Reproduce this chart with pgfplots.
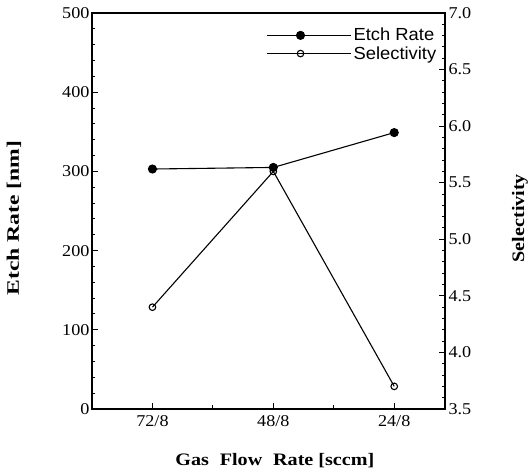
\documentclass[border=0pt]{standalone}
\usepackage{fontspec}
\setmainfont{Liberation Serif}
\newfontfamily\sansf[FakeStretch=1.05]{Liberation Sans}
\newfontfamily\tickf[FakeStretch=1.1]{Liberation Serif}
\newfontfamily\labf[FakeStretch=1.15]{Liberation Serif}
\newfontfamily\labwide[FakeStretch=1.35]{Liberation Serif}
\usepackage{pgfplots}
\pgfplotsset{compat=1.18}
\begin{document}
\begin{tikzpicture}
\pgfplotsset{
  common/.style={
    scale only axis, width=353pt, height=396pt,
    xmin=-0.5, xmax=2.42,
    xtick={0,1,2}, xticklabels={72/8,48/8,24/8},
    minor xtick={0.5,1.5},
    tick align=inside,
    major tick length=6pt, minor tick length=3.5pt,
    every tick/.style={black, line width=1pt},
    axis line style={line width=1.6pt},
    tick label style={font=\tickf\fontsize{16.5}{18}\selectfont},
    /pgf/number format/assume math mode=true,
    label style={font=\labf\fontsize{17.5}{19}\selectfont\bfseries},
  }
}
\begin{axis}[common, at={(0,0)}, anchor=south west,
  xtick pos=bottom, ytick pos=left,
  ymin=0, ymax=500, ytick={0,100,...,500}, minor y tick num=4,
  xlabel={Gas\,\, Flow\,\, Rate [sccm]},
  ylabel={Etch Rate [nm]},
  ylabel style={at={(axis description cs:-0.221,0.482)}, anchor=center, font=\labwide\fontsize{17.5}{19}\selectfont\bfseries},
  xlabel style={at={(axis description cs:0.518,-0.131)}, anchor=center},
  xticklabel style={yshift=-3pt},
  yticklabel style={xshift=1pt},
]
\addplot[black, line width=1.1pt, mark=*, mark size=4pt] coordinates {(0,303) (1,305) (2,349)};
\end{axis}
\begin{axis}[common, at={(0,0)}, anchor=south west,
  axis x line=none, axis y line*=right, ytick pos=right,
  ymin=3.5, ymax=7.0, ytick={3.5,4.0,...,7.0}, minor y tick num=4,
  yticklabel style={/pgf/number format/.cd, fixed, fixed zerofill, precision=1},
  ylabel={Selectivity},
  ylabel style={at={(axis description cs:1.2125,0.482)}, anchor=center},
  legend style={at={(0.99,0.972)}, anchor=north east, draw=none, fill=none,
    font=\sansf\fontsize{17.5}{19}\selectfont, row sep=0pt},
  legend cell align=left,
  legend image code/.code={\draw[#1, mark repeat=2, mark phase=2] plot coordinates {(0pt,0pt) (33.5pt,0pt) (67pt,0pt)}; \path (0pt,0pt) -- (84pt,0pt);},
]
\addlegendimage{black, line width=1.1pt, mark=*, mark size=4pt}
\addlegendentry{Etch Rate}
\addplot[black, line width=1.1pt, mark=o, mark size=3.3pt, mark options={fill=white, line width=1.1pt}] coordinates {(0,4.40) (1,5.60) (2,3.70)};
\addlegendentry{Selectivity}
\end{axis}
\pgfresetboundingbox
\path (-92pt,-67pt) rectangle (436pt,409pt);
\end{tikzpicture}
\end{document}
